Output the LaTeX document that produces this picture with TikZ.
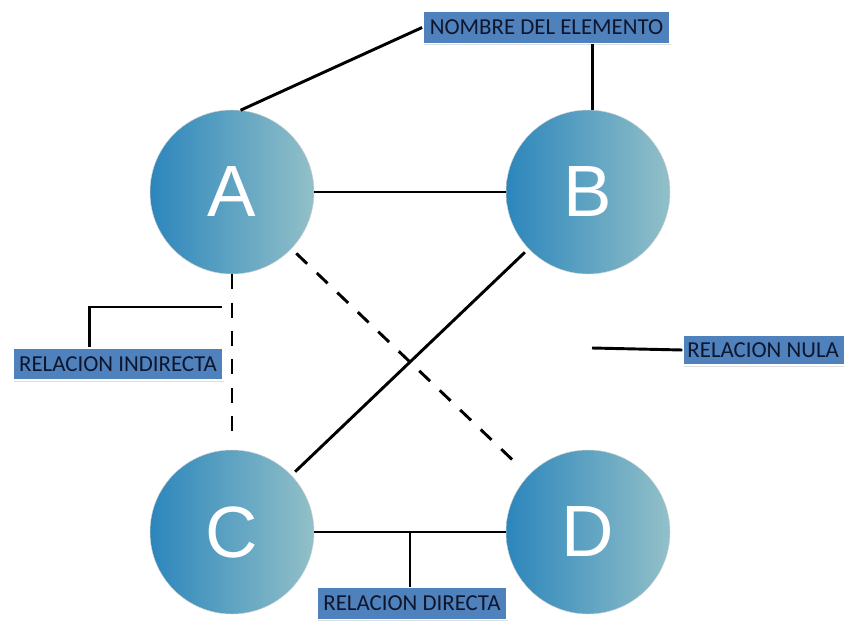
\documentclass[tikz,border=0pt]{standalone}
\usepackage{fontspec}
\setmainfont{Carlito}
\newfontfamily\letterfont{Liberation Sans}
\usepackage{tikz}
\usetikzlibrary{
  calc,
  shadows
}
\definecolor{cblue}{RGB}{79,129,189}
\definecolor{cnavy}{RGB}{14,22,45}
\definecolor{sleft}{RGB}{44,134,188}
\definecolor{smid}{RGB}{74,152,192}
\definecolor{sright}{RGB}{146,192,200}
\tikzset{
  elem/.style={
    circle, minimum size=4.92cm, inner sep=0pt,
    left color=sleft, middle color=smid, right color=sright,
    draw=gray!35, line width=0.4pt,
    font=\letterfont\fontsize{62}{62}\selectfont, text=white
  },
  tag/.style={
    rectangle, fill=cblue, draw=white, line width=1.5pt,
    drop shadow={shadow xshift=0.5pt, shadow yshift=-1.5pt, opacity=0.25},
    minimum height=0.96cm, inner sep=0pt,
    font=\fontsize{19.5}{21}\selectfont, text=cnavy
  },
  link/.style={line width=2.5pt, color=black},
  dlink/.style={link, dash pattern=on 0.45cm off 0.4cm}
}

\begin{document}
\begin{tikzpicture}[x=0.03cm, y=-0.03cm]
    \useasboundingbox (0,0) rectangle (844,621);

    %% ---- Elements ---------------------------------------------------
    \node[elem] (A) at (232,192) {A};
    \node[elem] (B) at (588,192) {B};
    \node[elem] (C) at (232,532) {C};
    \node[elem] (D) at (588,532) {D};

    %% ---- Labels -----------------------------------------------------
    \node[tag, minimum width=7.41cm] (nombre)    at (546.5,27.5) {NOMBRE DEL ELEMENTO};
    \node[tag, minimum width=6.3cm]  (indirecta) at (118,364)    {RELACION INDIRECTA};
    \node[tag, minimum width=5.0cm, minimum height=0.9cm]
      (nula) at (766.5,350) {\hspace*{-0.2cm}RELACION NULA};
    \node[tag, minimum width=5.7cm]  (directa)   at (412,603.5)  {RELACION DIRECTA};

    %% ---- Relations --------------------------------------------------
    \draw[link] (A) -- (B);
    \draw[link] (C) -- (D) coordinate[midway] (cdmid);
    \draw[link, shorten <=0.15cm, shorten >=0.15cm] (B) -- (C);
    \draw[dlink, shorten >=0.25cm] (A) -- (C);
    \draw[dlink, shorten <=0.2cm, shorten >=0.5cm] (A) -- (D);

    %% ---- Label pointers ---------------------------------------------
    \coordinate (indA) at (222,307);
    \coordinate (nulaend) at (592,348);
    \draw[link] (A.84) -- (nombre.west);
    \draw[link] (B.87) -- (B.87 |- nombre.south);
    \draw[link] (cdmid) -- (cdmid |- directa.north);
    \draw[link] (indA) -| ($(indirecta.north west)!0.367!(indirecta.north east)$);
    \draw[link] (nulaend) -- (nula.west);

\end{tikzpicture}
\end{document}
